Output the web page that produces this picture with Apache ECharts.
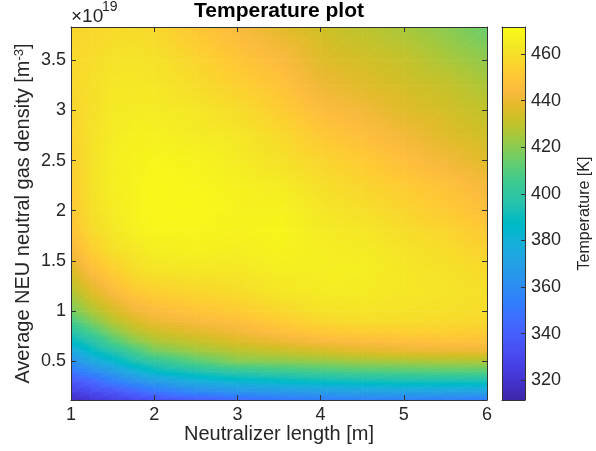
<!DOCTYPE html>
<html>
<head>
<meta charset="utf-8">
<script src="https://cdn.jsdelivr.net/npm/echarts@6/dist/echarts.min.js"></script>
<style>
  html, body { margin: 0; padding: 0; background: #ffffff; }
  #chart { width: 596px; height: 451px; }
</style>
</head>
<body>
<div id="chart"></div>
<script>
// Sample grid: neutralizer length [m] and average neutral gas density [1e19 m^-3]
const X_LENGTH = [1, 1.25, 1.5, 1.75, 2, 2.5, 3, 3.5, 4, 4.5, 5, 5.5, 6];
const Y_DENSITY = [0.115, 0.2, 0.3, 0.4, 0.5, 0.6, 0.7, 0.8, 0.9, 1.0, 1.2, 1.4, 1.6, 1.8,
                   2.0, 2.25, 2.5, 2.75, 3.0, 3.25, 3.5, 3.83];

// Temperature [K], one row per density value (bottom to top), one column per length
const TEMPERATURE = [
  [316, 322, 326, 329, 333, 339, 345, 350, 353, 355, 355, 354, 353],
  [326, 331, 336, 343, 350, 359, 364, 367, 369, 371, 372, 372, 372],
  [336, 343, 353, 361, 368, 378, 383, 386, 389, 391, 392, 392, 392],
  [349, 359, 368, 378, 387, 395, 401, 404, 407, 409, 410, 411, 411],
  [361, 374, 383, 394, 401, 411, 419, 420, 422, 424, 425, 426, 426],
  [374, 387, 396, 406, 416, 423, 428, 431, 434, 437, 439, 440, 440],
  [387, 397, 409, 419, 426, 431, 436, 440, 444, 446, 447, 448, 448],
  [397, 408, 419, 428, 433, 438, 442, 447, 451, 453, 454, 454, 453],
  [407, 418, 428, 435, 440, 444, 447, 452, 457, 459, 459, 458, 457],
  [416, 426, 434, 441, 445, 449, 452, 457, 461, 462, 461, 460, 459],
  [427, 437, 445, 451, 454, 457, 459, 463, 465, 465, 463, 462, 460],
  [435, 446, 453, 459, 462, 463, 463, 466, 466, 466, 463, 461, 458],
  [443, 453, 460, 463, 466, 467, 466, 468, 466, 465, 462, 459, 455],
  [448, 458, 463, 467, 469, 469, 468, 469, 465, 463, 459, 456, 451],
  [450, 460, 465, 468, 470, 470, 468, 468, 463, 460, 456, 452, 447],
  [452, 461, 466, 468, 470, 469, 467, 465, 460, 456, 452, 448, 443],
  [453, 461, 466, 468, 469, 468, 465, 461, 456, 452, 447, 442, 437],
  [455, 461, 465, 467, 467, 465, 463, 458, 451, 447, 442, 437, 433],
  [456, 460, 464, 465, 465, 463, 459, 453, 446, 442, 437, 434, 430],
  [457, 460, 463, 463, 463, 459, 454, 449, 441, 437, 434, 431, 426],
  [457, 459, 461, 462, 461, 456, 450, 445, 437, 434, 431, 426, 421],
  [456, 457, 458, 458, 457, 450, 444, 438, 433, 429, 425, 420, 414]
];

const X_TICKS = [1, 2, 3, 4, 5, 6];
const Y_TICKS = [0.5, 1, 1.5, 2, 2.5, 3, 3.5];
const CBAR_TICKS = [320, 340, 360, 380, 400, 420, 440, 460];
const T_MIN = 311.5;
const T_MAX = 471.6;

// parula colormap, 64 entries
const PARULA = [
  [0.2422,0.1504,0.6603],[0.2504,0.1650,0.7076],[0.2578,0.1818,0.7511],[0.2647,0.1978,0.7952],
  [0.2706,0.2147,0.8364],[0.2751,0.2342,0.8710],[0.2783,0.2559,0.8991],[0.2803,0.2782,0.9221],
  [0.2813,0.3006,0.9414],[0.2810,0.3228,0.9579],[0.2795,0.3447,0.9717],[0.2760,0.3667,0.9829],
  [0.2699,0.3892,0.9906],[0.2602,0.4123,0.9952],[0.2440,0.4358,0.9988],[0.2206,0.4603,0.9973],
  [0.1963,0.4847,0.9892],[0.1834,0.5074,0.9798],[0.1786,0.5289,0.9682],[0.1764,0.5499,0.9520],
  [0.1687,0.5703,0.9359],[0.1540,0.5902,0.9218],[0.1460,0.6091,0.9079],[0.1380,0.6276,0.8973],
  [0.1248,0.6459,0.8883],[0.1113,0.6635,0.8763],[0.0952,0.6798,0.8598],[0.0689,0.6948,0.8394],
  [0.0297,0.7082,0.8163],[0.0036,0.7203,0.7917],[0.0067,0.7312,0.7660],[0.0433,0.7411,0.7394],
  [0.0964,0.7500,0.7120],[0.1408,0.7584,0.6842],[0.1717,0.7670,0.6554],[0.1938,0.7758,0.6251],
  [0.2161,0.7843,0.5923],[0.2470,0.7918,0.5567],[0.2906,0.7973,0.5188],[0.3406,0.8008,0.4789],
  [0.3909,0.8029,0.4354],[0.4456,0.8024,0.3909],[0.5044,0.7993,0.3480],[0.5616,0.7942,0.3045],
  [0.6174,0.7876,0.2612],[0.6720,0.7793,0.2227],[0.7242,0.7698,0.1910],[0.7738,0.7598,0.1646],
  [0.8203,0.7498,0.1535],[0.8634,0.7406,0.1596],[0.9035,0.7330,0.1774],[0.9393,0.7288,0.2100],
  [0.9728,0.7298,0.2394],[0.9956,0.7434,0.2371],[0.9970,0.7659,0.2199],[0.9952,0.7893,0.2028],
  [0.9892,0.8136,0.1885],[0.9786,0.8386,0.1766],[0.9676,0.8639,0.1643],[0.9610,0.8890,0.1537],
  [0.9597,0.9135,0.1423],[0.9628,0.9373,0.1265],[0.9691,0.9606,0.1064],[0.9769,0.9839,0.0805]
];

const FONT = "'Liberation Sans', Arial, Helvetica, sans-serif";
const INK = '#262626';
const AXIS_COLOR = '#333333';

function colorOf(v) {
  let t = (v - T_MIN) / (T_MAX - T_MIN);
  t = Math.min(1, Math.max(0, t));
  const f = t * (PARULA.length - 1);
  const i = Math.min(PARULA.length - 2, Math.floor(f));
  const u = f - i;
  const a = PARULA[i], b = PARULA[i + 1];
  const c = [0, 1, 2].map(k => Math.round(255 * (a[k] + (b[k] - a[k]) * u)));
  return 'rgb(' + c.join(',') + ')';
}

// Gouraud-shaded triangle: value varies linearly between the three vertices,
// drawn as a linear gradient along the value gradient direction.
function shadedTriangle(p, v) {
  const e1x = p[1][0] - p[0][0], e1y = p[1][1] - p[0][1];
  const e2x = p[2][0] - p[0][0], e2y = p[2][1] - p[0][1];
  const d1 = v[1] - v[0], d2 = v[2] - v[0];
  const det = e1x * e2y - e1y * e2x;
  const vmin = Math.min(v[0], v[1], v[2]);
  const vmax = Math.max(v[0], v[1], v[2]);
  let fill;
  if (Math.abs(det) < 1e-9 || vmax - vmin < 0.05) {
    fill = colorOf((vmin + vmax) / 2);
  } else {
    const gx = (d1 * e2y - d2 * e1y) / det;
    const gy = (e1x * d2 - e2x * d1) / det;
    const g2 = gx * gx + gy * gy;
    const sa = (vmin - v[0]) / g2, sb = (vmax - v[0]) / g2;
    const n = Math.max(2, Math.ceil((vmax - vmin) / 1.5) + 1);
    const stops = [];
    for (let k = 0; k < n; k++) {
      const t = k / (n - 1);
      stops.push({ offset: t, color: colorOf(vmin + t * (vmax - vmin)) });
    }
    fill = new echarts.graphic.LinearGradient(
      p[0][0] + sa * gx, p[0][1] + sa * gy,
      p[0][0] + sb * gx, p[0][1] + sb * gy,
      stops, true);
  }
  return {
    type: 'polygon',
    shape: { points: p },
    style: { fill: fill, stroke: fill, lineWidth: 0.7 }
  };
}

// One record per grid cell: corners and the four corner temperatures
const cells = [];
for (let r = 0; r < Y_DENSITY.length - 1; r++) {
  for (let c = 0; c < X_LENGTH.length - 1; c++) {
    cells.push([
      X_LENGTH[c], Y_DENSITY[r], X_LENGTH[c + 1], Y_DENSITY[r + 1],
      TEMPERATURE[r][c], TEMPERATURE[r][c + 1],
      TEMPERATURE[r + 1][c], TEMPERATURE[r + 1][c + 1]
    ]);
  }
}

function fmtTick(v) {
  return String(Math.round(v * 10) / 10);
}

const tickLabel = { fontSize: 18, color: INK, fontFamily: FONT };
const axisLineStyle = { color: AXIS_COLOR, width: 1 };
const boxLine = { show: true, onZero: false, lineStyle: axisLineStyle };

const chart = echarts.init(document.getElementById('chart'), null, { renderer: 'canvas' });

chart.setOption({
  animation: false,
  backgroundColor: '#ffffff',
  grid: [
    { left: 71, right: 109, top: 27, bottom: 51, containLabel: false, outerBoundsMode: 'none' },
    { left: 502, right: 71, top: 27, bottom: 51, containLabel: false, outerBoundsMode: 'none' }
  ],
  xAxis: [
    {
      gridIndex: 0, type: 'value', min: 1, max: 6, interval: 1, position: 'bottom', z: 10,
      axisLine: boxLine,
      axisTick: { show: true, inside: true, length: 5, lineStyle: axisLineStyle },
      axisLabel: Object.assign({ margin: 6, formatter: fmtTick }, tickLabel),
      splitLine: { show: false },
      name: 'Neutralizer length [m]', nameLocation: 'middle', nameGap: 24, nameMoveOverlap: false,
      nameTextStyle: { fontSize: 20, color: INK, fontFamily: FONT }
    },
    {
      gridIndex: 0, type: 'value', min: 1, max: 6, interval: 1, position: 'top', z: 10,
      axisLine: boxLine,
      axisTick: { show: true, inside: true, length: 5, lineStyle: axisLineStyle },
      axisLabel: { show: false },
      splitLine: { show: false }
    },
    {
      // colorbar frame (horizontal extent is a dummy 1..2 span)
      gridIndex: 1, type: 'value', min: 1, max: 2, position: 'bottom', z: 10,
      axisLine: boxLine,
      axisTick: { show: false }, axisLabel: { show: false }, splitLine: { show: false }
    },
    {
      gridIndex: 1, type: 'value', min: 1, max: 2, position: 'top', z: 10,
      axisLine: boxLine,
      axisTick: { show: false }, axisLabel: { show: false }, splitLine: { show: false }
    }
  ],
  yAxis: [
    {
      gridIndex: 0, type: 'value', min: 0.115, max: 3.83, position: 'left', z: 10,
      axisLine: boxLine,
      axisTick: { show: true, inside: true, length: 5, lineStyle: axisLineStyle, customValues: Y_TICKS },
      axisLabel: Object.assign({ margin: 5, customValues: Y_TICKS, formatter: fmtTick }, tickLabel),
      splitLine: { show: false },
      name: '{n|Average NEU neutral gas density [m}{s|-3}{n|]}',
      nameLocation: 'middle', nameGap: 38, nameRotate: 90, nameMoveOverlap: false,
      nameTextStyle: {
        fontSize: 20, color: INK, fontFamily: FONT,
        rich: {
          n: { fontSize: 20, color: INK, fontFamily: FONT },
          s: { fontSize: 13, color: INK, fontFamily: FONT, verticalAlign: 'top' }
        }
      }
    },
    {
      gridIndex: 0, type: 'value', min: 0.115, max: 3.83, position: 'right', z: 10,
      axisLine: boxLine,
      axisTick: { show: true, inside: true, length: 5, lineStyle: axisLineStyle, customValues: Y_TICKS },
      axisLabel: { show: false },
      splitLine: { show: false }
    },
    {
      gridIndex: 1, type: 'value', min: T_MIN, max: T_MAX, position: 'left', z: 10,
      axisLine: boxLine,
      axisTick: { show: false }, axisLabel: { show: false }, splitLine: { show: false }
    },
    {
      gridIndex: 1, type: 'value', min: T_MIN, max: T_MAX, position: 'right', z: 10,
      axisLine: boxLine,
      axisTick: { show: true, inside: true, length: 4, lineStyle: axisLineStyle, customValues: CBAR_TICKS },
      axisLabel: Object.assign({ margin: 6, customValues: CBAR_TICKS }, tickLabel),
      splitLine: { show: false },
      name: 'Temperature [K]', nameLocation: 'middle', nameGap: 52, nameRotate: 90, nameMoveOverlap: false,
      nameTextStyle: { fontSize: 16, color: INK, fontFamily: FONT }
    }
  ],
  graphic: [
    {
      type: 'text', x: 279, y: 11, silent: true,
      style: {
        text: 'Temperature plot', fill: '#000000', fontSize: 21, fontWeight: 'bold',
        fontFamily: FONT, align: 'center', verticalAlign: 'middle'
      }
    },
    {
      type: 'text', x: 71, y: 17, silent: true,
      style: { text: '\u00d710', fill: INK, fontSize: 19, fontFamily: FONT, align: 'left', verticalAlign: 'middle' }
    },
    {
      type: 'text', x: 102, y: 7.5, silent: true,
      style: { text: '19', fill: INK, fontSize: 14, fontFamily: FONT, align: 'left', verticalAlign: 'middle' }
    }
  ],
  series: [
    {
      type: 'custom', name: 'Temperature', xAxisIndex: 0, yAxisIndex: 0,
      silent: true, clip: true,
      encode: { x: [0, 2], y: [1, 3] },
      data: cells,
      renderItem: function (params, api) {
        const x0 = api.value(0), y0 = api.value(1), x1 = api.value(2), y1 = api.value(3);
        const bl = api.coord([x0, y0]), br = api.coord([x1, y0]);
        const tl = api.coord([x0, y1]), tr = api.coord([x1, y1]);
        const vbl = api.value(4), vbr = api.value(5), vtl = api.value(6), vtr = api.value(7);
        return {
          type: 'group',
          children: [
            shadedTriangle([bl, br, tr], [vbl, vbr, vtr]),
            shadedTriangle([bl, tr, tl], [vbl, vtr, vtl])
          ]
        };
      }
    },
    {
      type: 'custom', name: 'Colorbar', xAxisIndex: 2, yAxisIndex: 2,
      silent: true, clip: true,
      encode: { x: [0, 2], y: [1, 3] },
      data: [[1, T_MIN, 2, T_MAX]],
      renderItem: function (params, api) {
        const p0 = api.coord([api.value(0), api.value(1)]);
        const p1 = api.coord([api.value(2), api.value(3)]);
        const stops = PARULA.map((c, k) => ({
          offset: k / (PARULA.length - 1),
          color: 'rgb(' + c.map(x => Math.round(255 * x)).join(',') + ')'
        }));
        return {
          type: 'rect',
          shape: { x: p0[0], y: p1[1], width: p1[0] - p0[0], height: p0[1] - p1[1] },
          style: { fill: new echarts.graphic.LinearGradient(0, 1, 0, 0, stops) }
        };
      }
    }
  ]
});
</script>
</body>
</html>
